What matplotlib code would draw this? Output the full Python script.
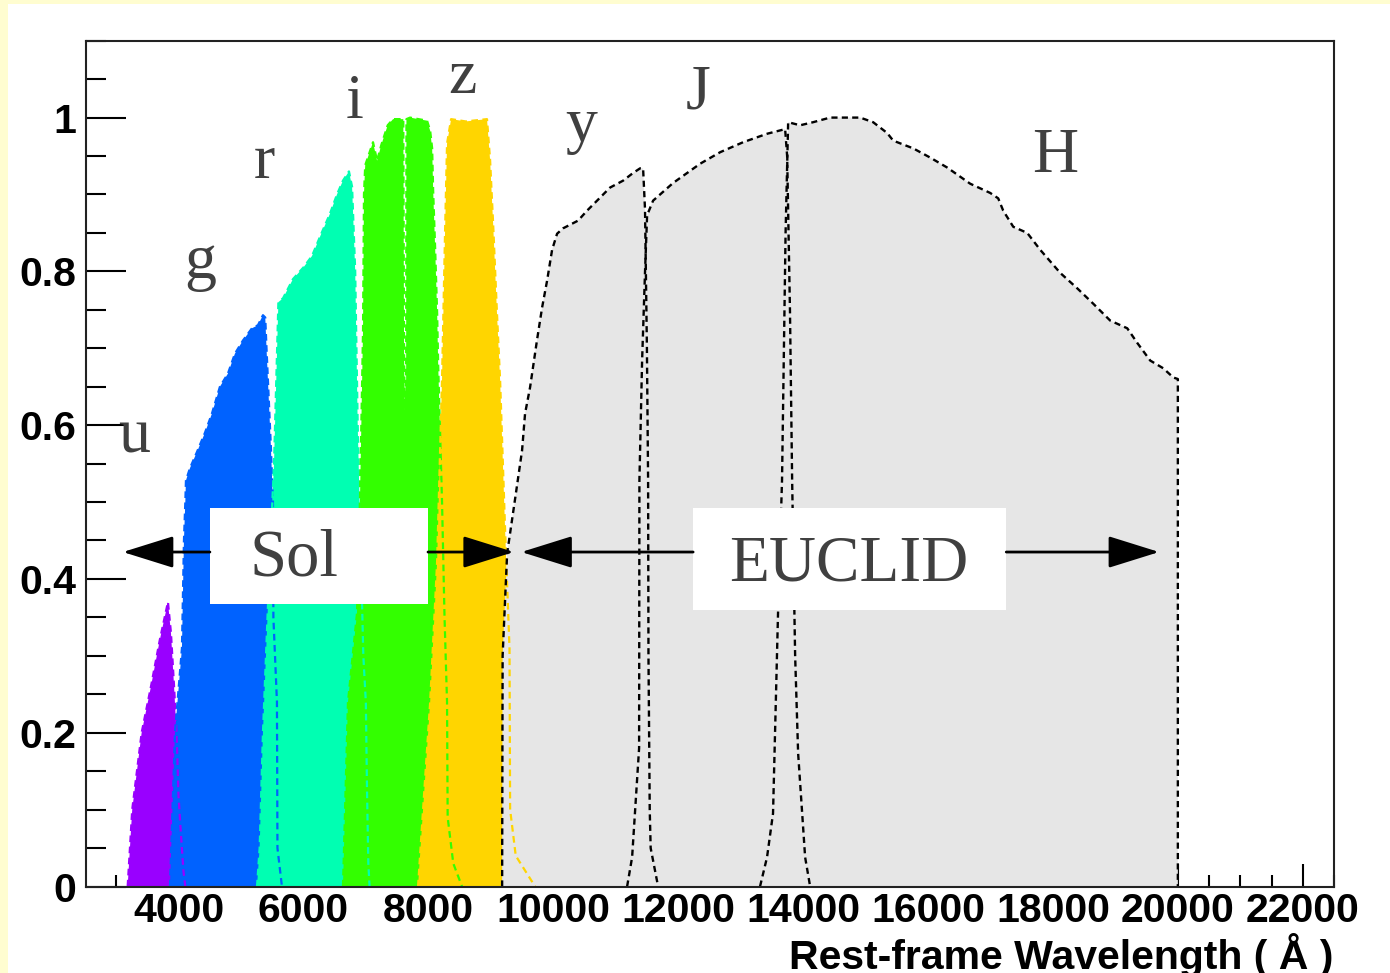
import matplotlib.pyplot as plt
from matplotlib.patches import Rectangle
from matplotlib.ticker import MultipleLocator, FuncFormatter

# transmissions (longueur d'onde en A, transmission)
u_wl = [3187, 3260, 3411, 3560, 3700, 3832, 3880, 3930, 3970, 4000, 4030, 4080, 4110]
u_tr = [0, 0.10, 0.20, 0.26, 0.32, 0.37, 0.33, 0.26, 0.20, 0.12, 0.08, 0.02, 0]

g_wl = [3864, 3944, 4056, 4088, 4110, 4120, 4184, 4296, 4424, 4536, 4664, 4792, 4904,
        5032, 5177, 5273, 5353, 5390, 5410, 5433, 5481, 5513, 5520, 5577, 5585, 5657]
g_tr = [0, 0.20, 0.31, 0.45, 0.50, 0.528, 0.544, 0.565, 0.59, 0.615, 0.65, 0.667, 0.693,
        0.71, 0.726, 0.73, 0.743, 0.74, 0.70, 0.658, 0.57, 0.50, 0.35, 0.24, 0.05, 0]

r_wl = [5258, 5300, 5353, 5450, 5530, 5580, 5600, 5674, 5834, 6000, 6138, 6266, 6426,
        6538, 6634, 6730, 6780, 6830, 6870, 6900, 6960, 7000, 7020, 7040, 7060]
r_tr = [0, 0.05, 0.20, 0.40, 0.55, 0.70, 0.76, 0.765, 0.79, 0.805, 0.82, 0.845, 0.875,
        0.90, 0.918, 0.93, 0.91, 0.80, 0.60, 0.50, 0.30, 0.24, 0.12, 0.03, 0]

i1_wl = [6634, 6714, 6858, 6907, 6955, 6970, 6990, 7115, 7180, 7250, 7350, 7436, 7600,
         7612, 7650, 7700]
i1_tr = [0, 0.24, 0.355, 0.506, 0.723, 0.90, 0.938, 0.968, 0.944, 0.965, 0.99, 0.998, 0.998,
         0.70, 0.40, 0]

i2_wl = [7550, 7612, 7645, 7650, 7708, 7980, 8030, 8062, 8078, 8110, 8142, 8158, 8220,
         8260, 8300, 8310, 8400, 8540]
i2_tr = [0, 0.62, 0.66, 0.998, 1.0, 0.996, 0.983, 0.96, 0.905, 0.83, 0.745, 0.68, 0.50,
         0.35, 0.24, 0.09, 0.03, 0]

z_wl = [7836, 7900, 8030, 8140, 8220, 8268, 8300, 8365, 8600, 8940, 8990, 9038, 9100,
        9150, 9230, 9300, 9310, 9400, 9710]
z_tr = [0, 0.08, 0.24, 0.42, 0.66, 0.85, 0.966, 0.998, 0.995, 0.998, 0.944, 0.862, 0.745,
        0.658, 0.463, 0.31, 0.10, 0.04, 0]

y_wl = [9182, 9190, 9262, 9400, 9501, 9549, 9629, 9741, 9822, 9902, 9982, 10062, 10158,
        10398, 10542, 10702, 10910, 11119, 11279, 11391, 11439, 11470, 11500, 11519, 11525,
        11545, 11560, 11679]
y_tr = [0, 0.30, 0.433, 0.51, 0.567, 0.615, 0.649, 0.711, 0.753, 0.788, 0.828, 0.849, 0.856,
        0.866, 0.879, 0.892, 0.909, 0.918, 0.928, 0.934, 0.934, 0.88, 0.70, 0.528, 0.30,
        0.10, 0.05, 0]

J_wl = [11183, 11263, 11375, 11380, 11423, 11470, 11503, 11599, 11920, 12352, 12673, 13041,
        13425, 13713, 13745, 13790, 13825, 13873, 13921, 14033, 14113]
J_tr = [0, 0.038, 0.18, 0.528, 0.684, 0.80, 0.873, 0.892, 0.915, 0.94, 0.955, 0.968,
        0.979, 0.985, 0.95, 0.75, 0.528, 0.30, 0.173, 0.038, 0]

H_wl = [13311, 13423, 13519, 13599, 13663, 13720, 13761, 13953, 14161, 14433, 14914, 15122,
        15346, 15443, 15763, 16035, 16308, 16676, 16996, 17124, 17204, 17365, 17589, 17797,
        18117, 18389, 18645, 18917, 19190, 19350, 19558, 19766, 19927, 20000, 20000]
H_tr = [0, 0.038, 0.095, 0.355, 0.528, 0.85, 0.994, 0.99, 0.994, 1.0, 1.0, 0.994,
        0.98, 0.97, 0.96, 0.948, 0.935, 0.914, 0.902, 0.895, 0.879, 0.858, 0.85, 0.828,
        0.798, 0.778, 0.758, 0.736, 0.726, 0.707, 0.684, 0.674, 0.662, 0.66, 0]

sol = [(u_wl, u_tr, '#9900FF'), (g_wl, g_tr, '#0062FF'), (r_wl, r_tr, '#00FFB2'),
       (i1_wl, i1_tr, '#33FF00'), (i2_wl, i2_tr, '#33FF00'), (z_wl, z_tr, '#FFD500')]
euclid = [(y_wl, y_tr), (J_wl, J_tr), (H_wl, H_tr)]

noms = ['u', 'g', 'r', 'i', 'z', 'y', 'J', 'H']
noms_x = [3287, 4344, 5370, 6827, 8541, 10446, 12320, 18038]
noms_y = [0.565, 0.792, 0.921, 0.999, 1.032, 0.969, 1.012, 0.929]

fig = plt.figure(figsize=(13.9, 9.73), dpi=100)
fig.patch.set_facecolor('#FFFDD0')
fig.patches.append(Rectangle((8 / 1390, 0), 1, 969 / 973, transform=fig.transFigure,
                             facecolor='white', edgecolor='none', zorder=-5))
ax = fig.add_axes([86 / 1390, 86.5 / 973, 1248 / 1390, 845.8 / 973])

for wl, tr, c in sol:
    ax.fill(wl, tr, color=c, lw=0, zorder=1)
for wl, tr in euclid:
    ax.fill(wl, tr, color='#E6E6E6', lw=0, zorder=1)
for wl, tr, c in sol:
    ax.plot(wl, tr, color=c, lw=1.6, ls=(0, (3, 2)), zorder=2)
for wl, tr in euclid:
    ax.plot(wl, tr, color='black', lw=1.7, ls=(0, (2.6, 1.8)), zorder=2)

ax.set_xlim(2520, 22500)
ax.set_ylim(0, 1.1)
ax.set_axisbelow(True)

ax.xaxis.set_major_locator(MultipleLocator(2000))
ax.xaxis.set_minor_locator(MultipleLocator(500))
ax.yaxis.set_major_locator(MultipleLocator(0.2))
ax.yaxis.set_minor_locator(MultipleLocator(0.05))
ax.yaxis.set_major_formatter(FuncFormatter(lambda v, p: f'{v:g}'))
ax.set_xticks([t for t in range(4000, 22001, 2000)])
for lab in ax.get_xticklabels() + ax.get_yticklabels():
    lab.set_fontfamily('Liberation Sans')
    lab.set_fontweight('bold')
ax.tick_params(axis='both', which='both', direction='in', width=1.5, colors='black',
               labelsize=29.5, top=False, right=False)
ax.tick_params(axis='y', which='major', length=29, pad=7)
ax.tick_params(axis='y', which='minor', length=14.5)
ax.tick_params(axis='x', which='major', length=16.5, pad=4)
ax.tick_params(axis='x', which='minor', length=8.6)
for s in ax.spines.values():
    s.set_linewidth(1.5)
    s.set_color('#222222')

# lettres des filtres
for n, x, y in zip(noms, noms_x, noms_y):
    ax.text(x, y, n, fontsize=46, family='Liberation Serif', color='#404040',
            ha='center', va='baseline', zorder=5)

# boites + fleches
ax.add_patch(Rectangle((4504, 0.368), 7995 - 4504, 0.492 - 0.368, facecolor='white',
                       edgecolor='none', zorder=4))
ax.add_patch(Rectangle((12240, 0.360), 17253 - 12240, 0.492 - 0.360, facecolor='white',
                       edgecolor='none', zorder=4))
ax.text(5145, 0.405, 'Sol', fontsize=48, family='Liberation Serif', color='#404040',
        ha='left', va='baseline', zorder=5)
ax.text(14738, 0.398, 'EUCLID', fontsize=47, family='Liberation Serif', color='#404040',
        ha='center', va='baseline', zorder=5)
fleche = dict(arrowstyle='-|>,head_length=3.2,head_width=1.0', color='black', lw=2,
              shrinkA=0, shrinkB=0, mutation_scale=10)
for x0, x1 in [(4504, 3110), (7995, 9370), (12240, 9490), (17253, 19700)]:
    ax.annotate('', xy=(x1, 0.435), xytext=(x0, 0.435), arrowprops=fleche, zorder=5)

fig.text(1333 / 1390, 4 / 973, 'Rest-frame Wavelength ( Å )', fontsize=29.5,
         family='Liberation Sans', fontweight='bold', ha='right', va='baseline')

fig.savefig('out.png', dpi=100, facecolor=fig.get_facecolor())
